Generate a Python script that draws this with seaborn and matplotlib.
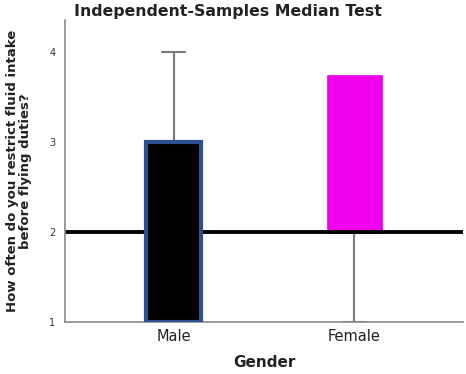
import matplotlib
matplotlib.use("Agg")
import matplotlib.pyplot as plt
import seaborn as sns

# Box summaries per gender
genders = ["Male", "Female"]
q1 = [1.0, 2.0]
medians = [2.0, 2.0]
q3 = [3.0, 3.75]
whisker_low = [1.0, 1.0]
whisker_high = [4.0, 3.75]
box_colors = ["#000000", "#ee00ee"]
edge_colors = ["#2d5091", "#ee00ee"]
overall_median = 2.0
y_ticks = [1, 2, 3, 4]

sns.set_theme(style="white")
plt.rcParams["font.family"] = ["DejaVu Sans"]

fig = plt.figure(figsize=(4.66, 3.74), dpi=100)
ax = fig.add_axes([0.1395, 0.139, 0.854, 0.8075])

positions = list(range(len(genders)))
box_layers = [3, 2]
for i, g in enumerate(genders):
    stats = [dict(label=g, q1=q1[i], med=medians[i], q3=q3[i],
                  whislo=whisker_low[i], whishi=whisker_high[i], fliers=[])]
    arts = ax.bxp(stats, positions=[positions[i]], widths=0.30, patch_artist=True,
                  showfliers=False,
                  boxprops=dict(facecolor=box_colors[i], edgecolor=edge_colors[i],
                                linewidth=3.0 if i == 0 else 0.5,
                                zorder=box_layers[i]),
                  medianprops=dict(color="#2d5091", linewidth=2, zorder=2),
                  whiskerprops=dict(color="#7a7a7a", linewidth=1.5, zorder=2),
                  capprops=dict(color="#7a7a7a", linewidth=1.5, zorder=2),
                  capwidths=0.13)
    # no cap where the whisker has zero length
    if whisker_high[i] <= q3[i]:
        arts["caps"][1].set_visible(False)
    if whisker_low[i] >= q1[i]:
        arts["caps"][0].set_visible(False)

# overall median reference line
ax.axhline(overall_median, color="black", linewidth=2.8, zorder=2.5)

ax.set_xlim(-0.6, 1.6)
ax.set_ylim(1, 4.36)
ax.set_xticks(positions)
ax.set_xticklabels(genders, fontsize=10.5, color="#222222")
ax.set_yticks(y_ticks)
ax.set_yticklabels([str(t) for t in y_ticks], fontsize=7, color="#333333")
ax.tick_params(axis="both", length=0, pad=5)
ax.tick_params(axis="y", pad=7)

sns.despine(ax=ax)
for side in ("left", "bottom"):
    ax.spines[side].set_color("#8a8a8a")
    ax.spines[side].set_linewidth(1.2)

ax.set_xlabel("Gender", fontsize=11, fontweight="bold", color="#222222", labelpad=8)
ax.set_ylabel("How often do you restrict fluid intake\nbefore flying duties?",
              fontsize=9.5, fontweight="bold", color="#222222", labelpad=12,
              linespacing=1.05)
fig.text(0.49, 0.968, "Independent-Samples Median Test", ha="center", va="center",
         fontsize=11.3, fontweight="bold", color="#222222")

fig.savefig("out.png", dpi=100)
